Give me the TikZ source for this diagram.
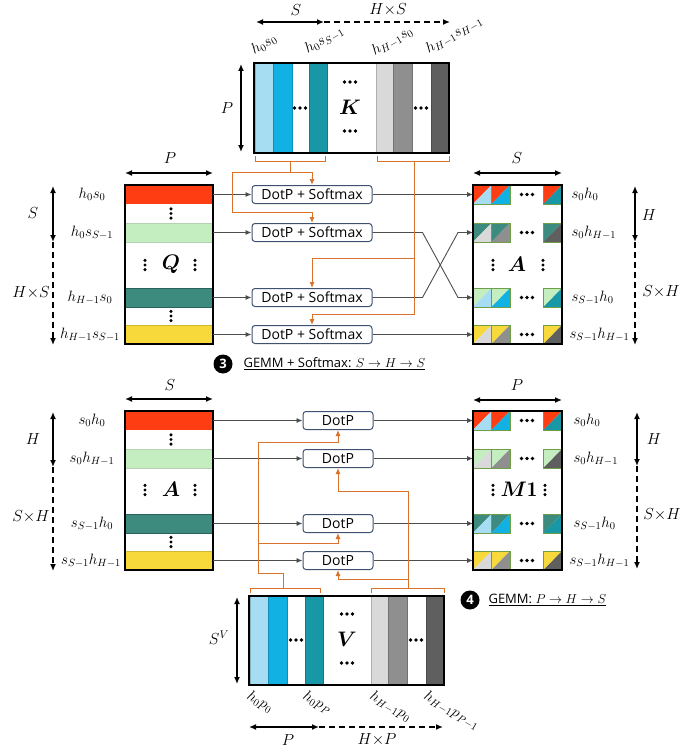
\RequirePackage{fix-cm}
\documentclass[tikz,border=0pt]{standalone}
\usepackage{fontspec}
\setsansfont{Open Sans}
\usepackage{bm}
\usetikzlibrary{arrows.meta,calc}
\definecolor{cred}{HTML}{FF3D12}
\definecolor{cgreen}{HTML}{C5EEC0}
\definecolor{cteal}{HTML}{3D8A7E}
\definecolor{cyel}{HTML}{F7D93B}
\definecolor{klb}{HTML}{A6DDF2}
\definecolor{kb}{HTML}{12B1E4}
\definecolor{kt}{HTML}{1898A6}
\definecolor{klg}{HTML}{D9D9D9}
\definecolor{kg}{HTML}{8F8F8F}
\definecolor{kdg}{HTML}{5F5F5F}
\definecolor{orng}{HTML}{D9722C}
\definecolor{boxc}{HTML}{3F5170}
\definecolor{lineg}{HTML}{4D4D4D}
\definecolor{cellb}{HTML}{6E9E46}
\newcommand{\tricell}[4]{%
  \fill[#3] (#1,#2) -- ++(18.5,0) -- ++(-18.5,19) -- cycle;
  \fill[#4] ($(#1,#2)+(18.5,0)$) -- ++(0,19) -- ++(-18.5,0) -- cycle;
  \draw[cellb, line width=0.8pt] (#1,#2) rectangle ++(18.5,19);}
\newcommand{\kstripe}[5]{\fill[#5, draw=#5!80!black, line width=0.5pt] (#1,#3) rectangle (#2,#4);}
\tikzset{
  vd/.pic={\fill (0,-4.6) circle (1.7pt) (0,0) circle (1.7pt) (0,4.6) circle (1.7pt);},
  hd/.pic={\fill (-5.5,0) circle (1.9pt) (0,0) circle (1.9pt) (5.5,0) circle (1.9pt);},
  blk/.style={draw=black, line width=1.6pt, inner sep=0, outer sep=0, anchor=north west},
  rowq/.style={minimum width=88pt, minimum height=19pt, anchor=north west, inner sep=0, outer sep=0, line width=0.6pt},
  rowa/.style={minimum width=89pt, minimum height=19pt, anchor=north west, inner sep=0, outer sep=0},
  dp/.style={draw=boxc, line width=1pt, rounded corners=3pt, fill=white, inner sep=0, minimum height=18pt, font=\sffamily\fontsize{14}{16}\selectfont},
  gl/.style={draw=lineg, line width=0.9pt, -{Latex[length=6pt,width=5pt]}},
  ol/.style={draw=orng, line width=1pt, -{Latex[length=6pt,width=5pt]}},
  obr/.style={draw=orng, line width=1pt},
  dima/.style={line width=1.5pt, {Latex[length=7pt,width=6pt]}-{Latex[length=7pt,width=6pt]}},
  dimd/.style={line width=1.5pt, dash pattern=on 6pt off 4pt, -{Latex[length=7pt,width=6pt]}},
  dl/.style={inner sep=1pt, font=\fontsize{16}{19}\selectfont},
  big/.style={font=\fontsize{21}{24}\selectfont},
  capt/.style={anchor=west, font=\sffamily\fontsize{13}{15}\selectfont},
  num/.style={circle, fill=black, text=white, inner sep=0, minimum size=19pt, font=\sffamily\bfseries\fontsize{13}{15}\selectfont}
}
\begin{document}
\begin{tikzpicture}[x=1pt,y=-1pt, font=\fontsize{15}{18}\selectfont]
\useasboundingbox (0,0) rectangle (699,749);

% ---------------- K block ----------------
\kstripe{255}{273}{63}{153}{klb}
\kstripe{273}{292}{63}{153}{kb}
\kstripe{309}{327}{63}{153}{kt}
\kstripe{376}{393}{63}{153}{klg}
\kstripe{393}{412}{63}{153}{kg}
\kstripe{431}{449}{63}{153}{kdg}
\node[blk, minimum width=195pt, minimum height=90pt] (K) at (254,63) {};
\pic at (300,108) {hd};
\pic at (421,108) {hd};
\pic at (350,82) {hd};
\pic at (350,131) {hd};
\node[big] (Klab) at (350,107) {$\bm{K}$};
\node[rotate=30, anchor=south west, inner sep=1pt] (kl1) at (255,58) {$h_0s_0$};
\node[rotate=30, anchor=south west, inner sep=1pt] (kl2) at (309,58) {$h_0s_{S-1}$};
\node[rotate=30, anchor=south west, inner sep=1pt] (kl3) at (376,60) {$h_{H-1}s_0$};
\node[rotate=30, anchor=south west, inner sep=1pt] (kl4) at (430,58) {$h_{H-1}s_{H-1}$};
\draw[dima] (256,22) -- (324,22);
\draw[dimd] (324,22) -- (450,22);
\node[dl] (kS) at (296,10) {$S$};
\node[dl] (kHS) at (388,10) {$H{\times}S$};
\draw[dima] (241,64) -- (241,152);
\node[dl] (kP) at (227,108) {$P$};
\draw[obr] (255,156) -- (255,161) -- (325,161) -- (325,156);
\draw[obr] (377,156) -- (377,161) -- (449,161) -- (449,156);
\coordinate (kb1) at (290,161);
\coordinate (kb2) at (414,161);

% ---------------- Q block ----------------
\node[rowq, fill=cred] (q1) at (125,185) {};
\node[rowq, fill=cgreen, draw=cgreen!75!gray] (q2) at (125,223) {};
\node[rowq, fill=cteal, draw=cteal!70!black] (q3) at (125,288) {};
\node[rowq, fill=cyel, draw=cyel!85!black] (q4) at (125,325) {};
\node[blk, minimum width=88pt, minimum height=159pt] (Q) at (125,185) {};
\pic at (171,213.5) {vd};
\pic at (145,265) {vd};
\pic at (195,265) {vd};
\pic at (171,316) {vd};
\node[big] (Qlab) at (171,264) {$\bm{Q}$};
\node (ql1) at (92,194.5) {$h_0s_0$};
\node (ql2) at (92,232.5) {$h_0s_{S-1}$};
\node (ql3) at (90,297.5) {$h_{H-1}s_0$};
\node (ql4) at (90,334.5) {$h_{H-1}s_{S-1}$};
\draw[dima] (125,173) -- (213,173);
\node[dl] (qP) at (170,158) {$P$};
\draw[dima] (53,186) -- (53,242);
\draw[dimd] (53,242) -- (53,345);
\node[dl] (qS) at (33,213) {$S$};
\node[dl] (qHS) at (31,293) {$H{\times}S$};

% ---------------- DotP + Softmax ----------------
\node[dp, minimum width=120pt] (d1) at (312,194.5) {DotP + Softmax};
\node[dp, minimum width=120pt] (d2) at (312,232.5) {DotP + Softmax};
\node[dp, minimum width=120pt] (d3) at (312,297.5) {DotP + Softmax};
\node[dp, minimum width=120pt] (d4) at (312,334.5) {DotP + Softmax};

% ---------------- A block (top) ----------------
\node[rowa] (a1) at (473,185) {};
\node[rowa] (a2) at (473,223) {};
\node[rowa] (a3) at (473,288) {};
\node[rowa] (a4) at (473,325) {};
\tricell{473}{185}{cred}{klb}
\tricell{491.5}{185}{cred}{kb}
\tricell{543.5}{185}{cred}{kt}
\tricell{473}{223}{cteal}{klg}
\tricell{491.5}{223}{cteal}{kg}
\tricell{543.5}{223}{cteal}{kdg}
\tricell{473}{288}{cgreen}{klb}
\tricell{491.5}{288}{cgreen}{kb}
\tricell{543.5}{288}{cgreen}{kt}
\tricell{473}{325}{cyel}{klg}
\tricell{491.5}{325}{cyel}{kg}
\tricell{543.5}{325}{cyel}{kdg}
\node[blk, minimum width=89pt, minimum height=159pt] (A) at (473,185) {};
\pic at (527,194.5) {hd};
\pic at (527,232.5) {hd};
\pic at (527,297.5) {hd};
\pic at (527,334.5) {hd};
\pic at (493,265) {vd};
\pic at (543,265) {vd};
\node[big] (Alab) at (517,264) {$\bm{A}$};
\node[anchor=west] (al1) at (568,194.5) {$s_0h_0$};
\node[anchor=west] (al2) at (568,232.5) {$s_0h_{H-1}$};
\node[anchor=west] (al3) at (568,297.5) {$s_{S-1}h_0$};
\node[anchor=west] (al4) at (566,334.5) {$s_{S-1}h_{H-1}$};
\draw[dima] (473,173) -- (562,173);
\node[dl] (aS) at (517,158) {$S$};
\draw[dima] (635,186) -- (635,242);
\draw[dimd] (635,242) -- (635,345);
\node[dl] (aH) at (649,215) {$H$};
\node[dl] (aSH) at (661,292) {$S{\times}H$};

% connectors top
\draw[gl] (q1.east) -- (d1.west);
\draw[gl] (q2.east) -- (d2.west);
\draw[gl] (q3.east) -- (d3.west);
\draw[gl] (q4.east) -- (d4.west);
\draw[gl] (d1.east) -- (a1.west);
\draw[gl] (d2.east) -- ([xshift=50pt]d2.east) -- ([xshift=-15pt]a3.west) -- (a3.west);
\draw[gl] (d3.east) -- ([xshift=50pt]d3.east) -- ([xshift=-15pt]a2.west) -- (a2.west);
\draw[gl] (d4.east) -- (a4.west);
\draw[ol] (kb1) -- ++(0,11) -| (d1.north);
\draw[ol] ($(kb1)+(0,11)$) -| (232,212) -| (d2.north);
\draw[ol] (kb2) -- (414,314) -| (d4.north);
\draw[ol] (414,258) -| (d3.north);

% caption 3
\node[num] (c3) at (223,364) {3};
\node[capt] (t3) at (240,364) {\underline{GEMM + Softmax: $S \rightarrow H \rightarrow S$}};

% ---------------- A block (bottom) ----------------
\node[rowq, fill=cred] (b1) at (125,411) {};
\node[rowq, fill=cgreen, draw=cgreen!75!gray] (b2) at (125,449) {};
\node[rowq, fill=cteal, draw=cteal!70!black] (b3) at (125,514) {};
\node[rowq, fill=cyel, draw=cyel!85!black] (b4) at (125,551) {};
\node[blk, minimum width=88pt, minimum height=159pt] (A2) at (125,411) {};
\pic at (171,439.5) {vd};
\pic at (145,490) {vd};
\pic at (195,490) {vd};
\pic at (171,542) {vd};
\node[big] (A2lab) at (171,489) {$\bm{A}$};
\node (bl1) at (92,420.5) {$s_0h_0$};
\node (bl2) at (92,458.5) {$s_0h_{H-1}$};
\node (bl3) at (92,523.5) {$s_{S-1}h_0$};
\node (bl4) at (91,560.5) {$s_{S-1}h_{H-1}$};
\draw[dima] (125,399) -- (213,399);
\node[dl] (bS) at (170,385) {$S$};
\draw[dima] (53,412) -- (53,467);
\draw[dimd] (53,467) -- (53,571);
\node[dl] (bH) at (33,439) {$H$};
\node[dl] (bSH) at (31,517) {$S{\times}H$};

% DotP
\node[dp, minimum width=70pt] (d5) at (338,420.5) {DotP};
\node[dp, minimum width=70pt] (d6) at (338,458.5) {DotP};
\node[dp, minimum width=70pt] (d7) at (338,523.5) {DotP};
\node[dp, minimum width=70pt] (d8) at (338,560.5) {DotP};

% ---------------- M1 block ----------------
\node[rowa] (m1) at (473,411) {};
\node[rowa] (m2) at (473,449) {};
\node[rowa] (m3) at (473,514) {};
\node[rowa] (m4) at (473,551) {};
\tricell{473}{411}{cred}{klb}
\tricell{491.5}{411}{cred}{kb}
\tricell{543.5}{411}{cred}{kt}
\tricell{473}{449}{cgreen}{klg}
\tricell{491.5}{449}{cgreen}{kg}
\tricell{543.5}{449}{cgreen}{kdg}
\tricell{473}{514}{cteal}{klb}
\tricell{491.5}{514}{cteal}{kb}
\tricell{543.5}{514}{cteal}{kt}
\tricell{473}{551}{cyel}{klg}
\tricell{491.5}{551}{cyel}{kg}
\tricell{543.5}{551}{cyel}{kdg}
\node[blk, minimum width=89pt, minimum height=159pt] (M) at (473,411) {};
\pic at (527,420.5) {hd};
\pic at (527,458.5) {hd};
\pic at (527,523.5) {hd};
\pic at (527,560.5) {hd};
\pic at (493,490) {vd};
\pic at (545,490) {vd};
\node[big] (Mlab) at (519,489) {$\bm{M}\mathbf{1}$};
\node[anchor=west] (ml1) at (570,420.5) {$s_0h_0$};
\node[anchor=west] (ml2) at (570,458.5) {$s_0h_{H-1}$};
\node[anchor=west] (ml3) at (570,523.5) {$s_{S-1}h_0$};
\node[anchor=west] (ml4) at (566,560.5) {$s_{S-1}h_{H-1}$};
\draw[dima] (473,400) -- (562,400);
\node[dl] (mP) at (517,385) {$P$};
\draw[dima] (637,412) -- (637,466);
\draw[dimd] (637,466) -- (637,569);
\node[dl] (mH) at (654,439) {$H$};
\node[dl] (mSH) at (662,515) {$S{\times}H$};

\draw[gl] (b1.east) -- (d5.west);
\draw[gl] (b2.east) -- (d6.west);
\draw[gl] (b3.east) -- (d7.west);
\draw[gl] (b4.east) -- (d8.west);
\draw[gl] (d5.east) -- (m1.west);
\draw[gl] (d6.east) -- (m2.west);
\draw[gl] (d7.east) -- (m3.west);
\draw[gl] (d8.east) -- (m4.west);

% ---------------- V block ----------------
\kstripe{250}{268}{596}{685}{klb}
\kstripe{268}{287}{596}{685}{kb}
\kstripe{305}{323}{596}{685}{kt}
\kstripe{371}{388}{596}{685}{klg}
\kstripe{388}{407}{596}{685}{kg}
\kstripe{426}{444}{596}{685}{kdg}
\node[blk, minimum width=195pt, minimum height=89pt] (V) at (249,596) {};
\pic at (296,640) {hd};
\pic at (416,640) {hd};
\pic at (347,614) {hd};
\pic at (347,663) {hd};
\node[big] (Vlab) at (347,639) {$\bm{V}$};
\draw[obr] (250,593) -- (250,588) -- (320,588) -- (320,593);
\draw[obr] (371,593) -- (371,588) -- (444,588) -- (444,593);
\coordinate (vb1) at (283,588);
\coordinate (vb2) at (408,588);
\draw[ol] (vb1) -- (283,573) -| (258,442) -| (d5.south);
\draw[ol] (258,543) -| (d7.south);
\draw[ol] (vb2) -- (408,491) -| (d6.south);
\draw[ol] (408,579) -| (d8.south);
\draw[dima] (237,597) -- (237,684);
\node[dl] (vS) at (219,638) {$S^V$};
\node[rotate=-30, anchor=north west, inner sep=1pt] (vl1) at (251,688) {$h_0p_0$};
\node[rotate=-30, anchor=north west, inner sep=1pt] (vl2) at (307,688) {$h_0p_P$};
\node[rotate=-30, anchor=north west, inner sep=1pt] (vl3) at (374,688) {$h_{H-1}p_0$};
\node[rotate=-30, anchor=north west, inner sep=1pt] (vl4) at (428,688) {$h_{H-1}p_{P-1}$};
\draw[dima] (249,727) -- (319,727);
\draw[dimd] (319,727) -- (443,727);
\node[dl] (vP) at (288,740) {$P$};
\node[dl] (vHP) at (377,740) {$H{\times}P$};

% caption 4
\node[num] (c4) at (470,600) {4};
\node[capt] (t4) at (485,600) {\underline{GEMM: $P \rightarrow H \rightarrow S$}};
\end{tikzpicture}
\end{document}
